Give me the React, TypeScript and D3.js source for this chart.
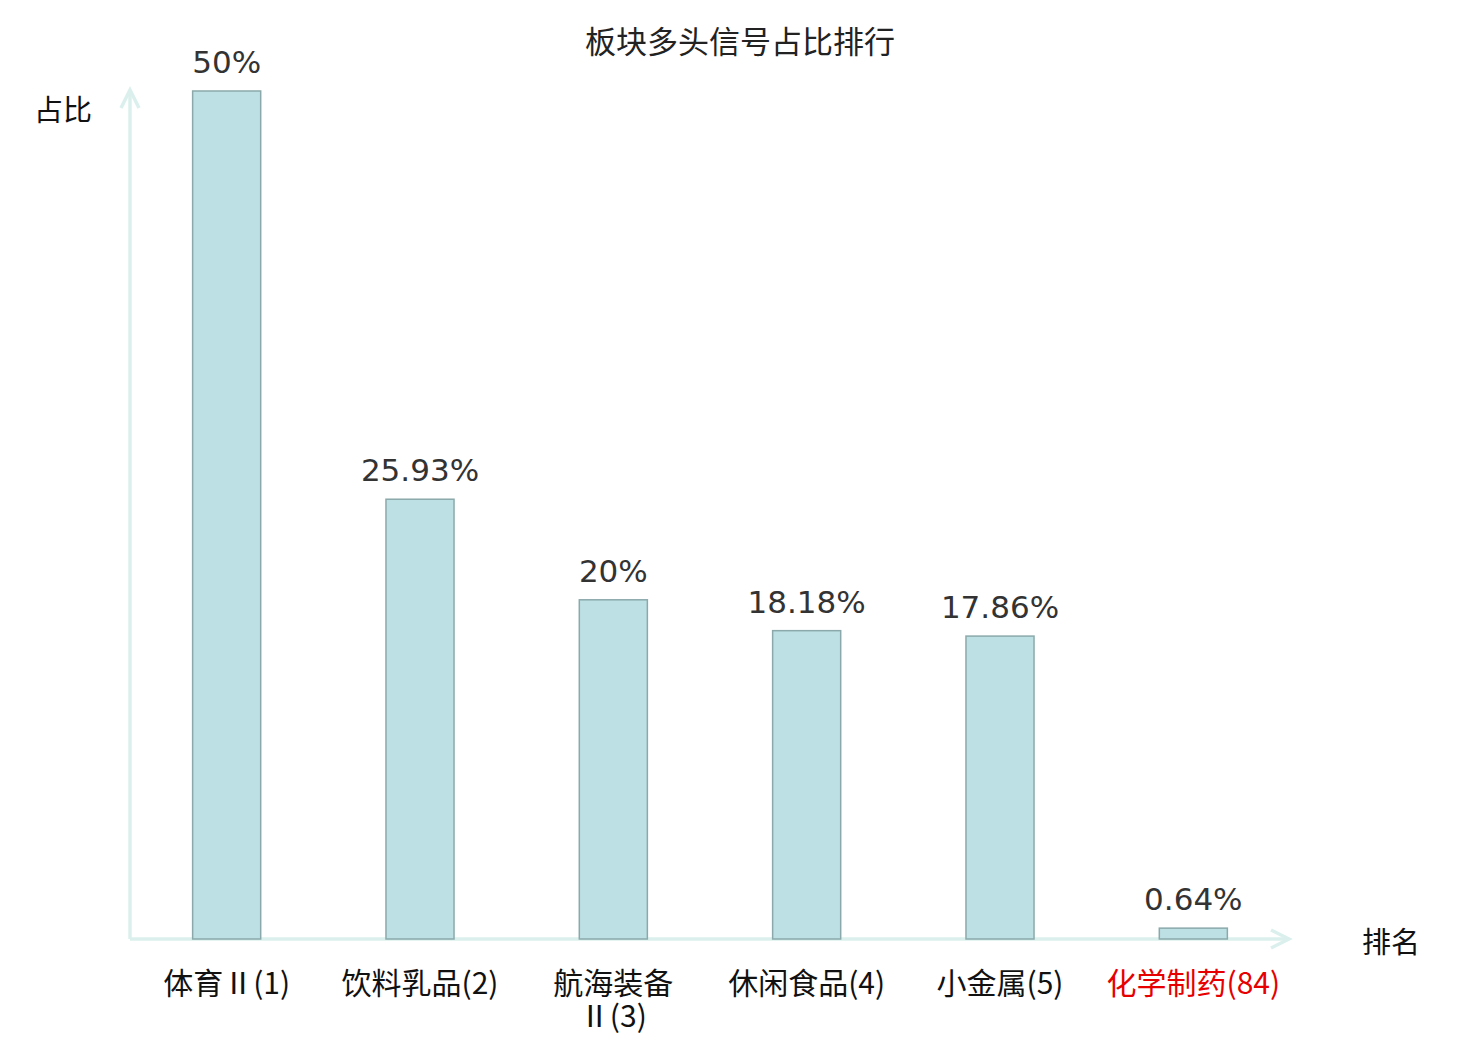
import { useEffect, useRef } from "react";
import * as d3 from "d3";

const categories = ["体育Ⅱ(1)", "饮料乳品(2)", "航海装备\nⅡ(3)", "休闲食品(4)", "小金属(5)", "化学制药(84)"];
const values = [50, 25.93, 20, 18.18, 17.86, 0.64];
const valueLabels = ["50%", "25.93%", "20%", "18.18%", "17.86%", "0.64%"];
const highlight = [false, false, false, false, false, true];

const W = 1480;
const H = 1040;

const App = () => {
  const svgRef = useRef(null);

  useEffect(() => {
    const svg = d3.select(svgRef.current);
    svg.selectAll("*").remove();

    const x0 = 130;
    const x1 = 1290;
    const yBase = 939;
    const yTop = 91;

    const xScale = d3
      .scaleBand()
      .domain(categories)
      .range([x0, x1])
      .paddingInner(0.648)
      .paddingOuter(0.324);

    const yScale = d3.scaleLinear().domain([0, 50]).range([yBase, yTop]);

    const axisColor = "#dbf0ed";

    // axes with arrows
    svg
      .append("line")
      .attr("x1", x0)
      .attr("y1", yBase)
      .attr("x2", x0)
      .attr("y2", 90)
      .attr("stroke", axisColor)
      .attr("stroke-width", 3.5);
    svg
      .append("path")
      .attr("d", `M${x0 - 9},${108} L${x0},${90} L${x0 + 9},${108}`)
      .attr("fill", "none")
      .attr("stroke", axisColor)
      .attr("stroke-width", 3.5);
    svg
      .append("line")
      .attr("x1", x0)
      .attr("y1", yBase)
      .attr("x2", 1289)
      .attr("y2", yBase)
      .attr("stroke", axisColor)
      .attr("stroke-width", 3.5);
    svg
      .append("path")
      .attr("d", `M${1271},${yBase - 9} L${1289},${yBase} L${1271},${yBase + 9}`)
      .attr("fill", "none")
      .attr("stroke", axisColor)
      .attr("stroke-width", 3.5);

    // bars (tiny values keep a visible minimum height)
    const barTop = (v: number) => Math.min(yScale(v), yBase - 9);
    svg
      .selectAll(".bar")
      .data(values)
      .join("rect")
      .attr("class", "bar")
      .attr("x", (_, i) => xScale(categories[i]) || 0)
      .attr("y", (v) => barTop(v))
      .attr("width", xScale.bandwidth())
      .attr("height", (v) => yBase - barTop(v))
      .attr("fill", "#bce0e3")
      .attr("stroke", "#8ba9ab")
      .attr("stroke-width", 1.5);

    // value labels
    svg
      .selectAll(".val")
      .data(values)
      .join("text")
      .attr("class", "val")
      .attr("x", (_, i) => (xScale(categories[i]) || 0) + xScale.bandwidth() / 2)
      .attr("y", (v) => barTop(v) - 18)
      .attr("text-anchor", "middle")
      .attr("font-family", "DejaVu Sans, sans-serif")
      .attr("font-size", 31)
      .attr("fill", "#333")
      .text((_, i) => valueLabels[i]);

    // category labels
    const cat = svg
      .selectAll(".cat")
      .data(categories)
      .join("text")
      .attr("class", "cat")
      .attr("x", (c) => (xScale(c) || 0) + xScale.bandwidth() / 2)
      .attr("y", 994)
      .attr("text-anchor", "middle")
      .attr("font-family", "Noto Sans CJK SC, sans-serif")
      .attr("font-size", 30)
      .attr("fill", (_, i) => (highlight[i] ? "#e60000" : "#111"));
    cat.each(function (c) {
      const t = d3.select(this);
      c.split("\n").forEach((line, j) => {
        t.append("tspan")
          .attr("x", t.attr("x"))
          .attr("dy", j === 0 ? 0 : 33)
          .text(line);
      });
    });

    // axis names and title
    svg
      .append("text")
      .attr("x", 34)
      .attr("y", 121)
      .attr("font-family", "Noto Sans CJK SC, sans-serif")
      .attr("font-size", 29)
      .attr("fill", "#111")
      .text("占比");
    svg
      .append("text")
      .attr("x", 1362)
      .attr("y", 953)
      .attr("font-family", "Noto Sans CJK SC, sans-serif")
      .attr("font-size", 29)
      .attr("fill", "#111")
      .text("排名");
    svg
      .append("text")
      .attr("x", 740)
      .attr("y", 53)
      .attr("text-anchor", "middle")
      .attr("font-family", "Noto Sans CJK SC, sans-serif")
      .attr("font-size", 31)
      .attr("fill", "#222")
      .text("板块多头信号占比排行");

    return () => {
      svg.selectAll("*").remove();
    };
  }, []);

  return (
    <svg
      ref={svgRef}
      width={W}
      height={H}
      style={{ position: "absolute", left: 0, top: 0, background: "#fff" }}
    />
  );
};

export default App;
